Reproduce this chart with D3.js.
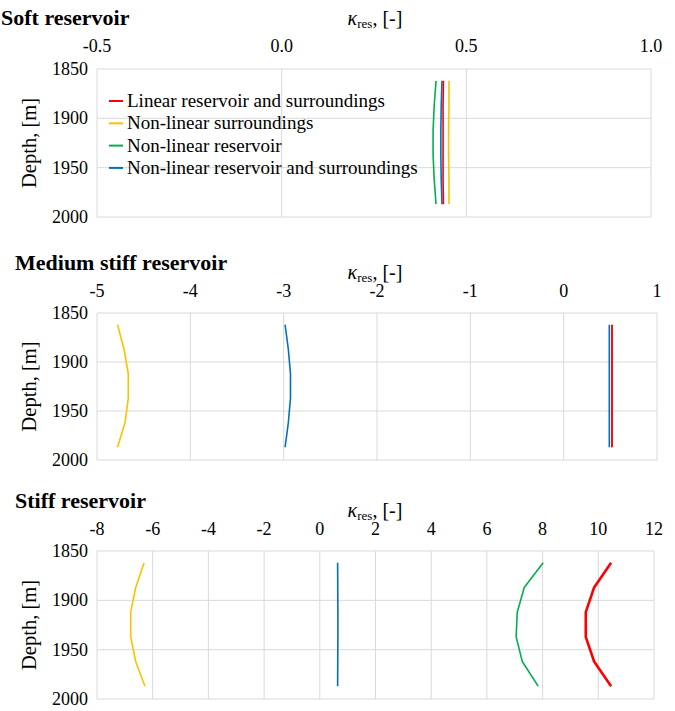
<!DOCTYPE html>
<html>
<head>
<meta charset="utf-8">
<script src="https://cdn.jsdelivr.net/npm/d3@7"></script>
<style>
  body { margin: 0; background: #fff; }
  svg text { font-family: "Liberation Serif", "Times New Roman", serif; fill: #000; }
</style>
</head>
<body>
<svg id="chart" width="675" height="711"></svg>
<script>
// depth points (m), shared by every series
var depths = [1862, 1887, 1912, 1937, 1962, 1987];
var depthTicks = [1850, 1900, 1950, 2000];

var seriesNames = ["Linear reservoir and surroundings", "Non-linear surroundings",
                   "Non-linear reservoir", "Non-linear reservoir and surroundings"];

// soft reservoir
var softTicks = [-0.5, 0.0, 0.5, 1.0];
var softLinear = [0.438, 0.437, 0.437, 0.437, 0.437, 0.438];
var softNlSurr = [0.453, 0.453, 0.452, 0.452, 0.453, 0.453];
var softNlRes  = [0.418, 0.413, 0.410, 0.410, 0.413, 0.418];
var softNlBoth = [0.434, 0.432, 0.431, 0.431, 0.432, 0.434];

// medium stiff reservoir
var mediumTicks = [-5, -4, -3, -2, -1, 0, 1];
var mediumLinear = [0.518, 0.518, 0.518, 0.518, 0.518, 0.518];
var mediumNlSurr = [-4.78, -4.71, -4.665, -4.665, -4.70, -4.78];
var mediumNlRes  = [0.518, 0.518, 0.518, 0.518, 0.518, 0.518];
var mediumNlBoth = [-2.985, -2.95, -2.927, -2.927, -2.95, -2.985];
var mediumNlBothNear = [0.489, 0.489, 0.489, 0.489, 0.489, 0.489];

// stiff reservoir
var stiffTicks = [-8, -6, -4, -2, 0, 2, 4, 6, 8, 10, 12];
var stiffLinear = [10.46, 9.85, 9.55, 9.55, 9.85, 10.46];
var stiffNlSurr = [-6.31, -6.61, -6.79, -6.79, -6.61, -6.28];
var stiffNlRes  = [8.02, 7.34, 7.09, 7.05, 7.27, 7.84];
var stiffNlBoth = [0.64, 0.645, 0.65, 0.65, 0.645, 0.64];

var colors = ["#ff0000", "#ffc000", "#00b050", "#0070c0"];

var svg = d3.select("#chart");
var left = 97;
var hyphen = function (s) { return s.replace("\u2212", "-"); };

// each series: [data, color index, width]
var panels = [
  { title: "Soft reservoir", titleX: 1, titleY: 25, axisY: 25, tickY: 52, top: 69, bottom: 217, right: 651,
    ticks: softTicks, fmt: d3.format(".1f"), legend: true,
    series: [[softNlRes, 2, 1.6], [softNlSurr, 1, 1.6], [softNlBoth, 3, 1.6], [softLinear, 0, 1.6]] },
  { title: "Medium stiff reservoir", titleX: 15, titleY: 270, axisY: 279, tickY: 297, top: 313, bottom: 460, right: 657,
    ticks: mediumTicks, fmt: d3.format("d"),
    series: [[mediumNlRes, 2, 1.2], [mediumNlSurr, 1, 1.6], [mediumNlBoth, 3, 1.6],
             [mediumNlBothNear, 3, 1.6], [mediumLinear, 0, 1.8]] },
  { title: "Stiff reservoir", titleX: 15, titleY: 508, axisY: 517, tickY: 535, top: 551, bottom: 699, right: 654,
    ticks: stiffTicks, fmt: d3.format("d"),
    series: [[stiffNlRes, 2, 1.6], [stiffNlSurr, 1, 1.6], [stiffNlBoth, 3, 1.6], [stiffLinear, 0, 2.6]] }
];

panels.forEach(function (p) {
  var g = svg.append("g");
  var x = d3.scaleLinear().domain(d3.extent(p.ticks)).range([left, p.right]);
  var y = d3.scaleLinear().domain([1850, 2000]).range([p.top, p.bottom]);

  // gridlines
  g.selectAll(".vg").data(p.ticks).enter().append("line")
    .attr("x1", function (d) { return x(d); }).attr("x2", function (d) { return x(d); })
    .attr("y1", p.top).attr("y2", p.bottom)
    .attr("stroke", "#d9d9d9").attr("stroke-width", 1);
  g.selectAll(".hg").data(depthTicks).enter().append("line")
    .attr("x1", left).attr("x2", p.right)
    .attr("y1", function (d) { return y(d); }).attr("y2", function (d) { return y(d); })
    .attr("stroke", "#d9d9d9").attr("stroke-width", 1);

  // top tick labels
  g.selectAll(".xt").data(p.ticks).enter().append("text")
    .attr("x", function (d) { return x(d); }).attr("y", p.tickY)
    .attr("text-anchor", "middle").attr("font-size", 18)
    .text(function (d) { return hyphen(p.fmt(d)); });

  // left tick labels
  g.selectAll(".yt").data(depthTicks).enter().append("text")
    .attr("x", 88).attr("y", function (d) { return y(d) + 6; })
    .attr("text-anchor", "end").attr("font-size", 18)
    .text(function (d) { return d; });

  // titles
  g.append("text").attr("x", p.titleX).attr("y", p.titleY)
    .attr("font-size", 22).attr("font-weight", "bold").text(p.title);

  var at = g.append("text").attr("x", 375).attr("y", p.axisY)
    .attr("text-anchor", "middle").attr("font-size", 20);
  at.append("tspan").attr("font-style", "italic").text("\u03ba");
  at.append("tspan").attr("font-size", 13).attr("dy", 3).text("res");
  at.append("tspan").attr("dy", -3).text(", [-]");

  g.append("text")
    .attr("transform", "translate(36," + ((p.top + p.bottom) / 2) + ") rotate(-90)")
    .attr("text-anchor", "middle").attr("font-size", 20.5).text("Depth, [m]");

  // series
  var line = d3.line()
    .x(function (d) { return x(d[0]); })
    .y(function (d) { return y(d[1]); });

  p.series.forEach(function (s) {
    var pts = s[0].map(function (v, k) { return [v, depths[k]]; });
    g.append("path").datum(pts)
      .attr("d", line).attr("fill", "none")
      .attr("stroke", colors[s[1]]).attr("stroke-width", s[2])
      .attr("stroke-linejoin", "round");
  });

  if (p.legend) {
    var lg = g.append("g");
    seriesNames.forEach(function (name, i) {
      var ly = 101 + i * 22.3;
      lg.append("line").attr("x1", 109).attr("x2", 123).attr("y1", ly).attr("y2", ly)
        .attr("stroke", colors[i]).attr("stroke-width", 2);
      lg.append("text").attr("x", 127).attr("y", ly + 6).attr("font-size", 19).text(name);
    });
  }
});
</script>
</body>
</html>
